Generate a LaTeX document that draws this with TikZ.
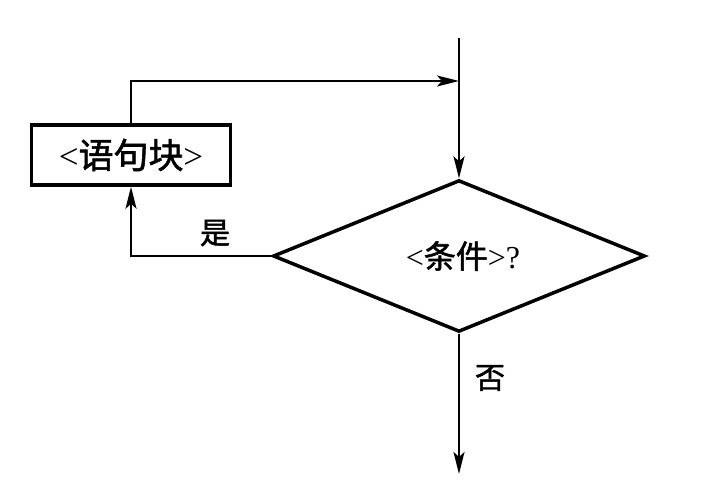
\documentclass[tikz,border=0pt]{standalone}
\usepackage{fontspec}
\setmainfont{Liberation Serif}
\newfontfamily\cjk[FakeBold=1.6]{Noto Sans CJK SC}
\usepackage{tikz}
\usetikzlibrary{shapes.geometric,arrows.meta,positioning}

\tikzset{
    block/.style={rectangle, draw, line width=3.5pt, minimum width=199pt, minimum height=60pt, inner sep=0pt, font=\fontsize{35}{38}\selectfont},
    decision/.style={diamond, draw, line width=3.5pt, minimum width=372pt, minimum height=140pt, inner sep=0pt, font=\fontsize{32}{34}\selectfont},
    flow/.style={line width=2.4pt, -{Stealth[length=22pt,width=11pt,inset=5pt]}},
    tag/.style={font=\cjk\fontsize{30}{32}\selectfont}
}

\begin{document}
\begin{tikzpicture}[x=1pt, y=-1pt]
    \useasboundingbox (0,0) rectangle (705,481);
    \node [block] (blk) at (131,155) {<{\cjk 语句块}>};
    \node [decision] (cond) at (459,256) {\hspace{8pt}\raisebox{-6pt}{<{\cjk 条件}>?}};
    \coordinate (entry) at (459,38);
    \coordinate (loop) at (131,81);
    \coordinate (exit) at (459,474);

    \draw [flow] (entry) -- (cond.north);
    \draw [flow] (blk.north) -- (loop) -- (loop -| entry);
    \draw [flow] (cond.west) -- (cond.west -| blk.south) -- (blk.south);
    \draw [flow] (cond.south) -- (exit);

    \node [tag] (yes) at (215,233) {是};
    \node [tag] (no) at (490,378) {否};
\end{tikzpicture}
\end{document}
